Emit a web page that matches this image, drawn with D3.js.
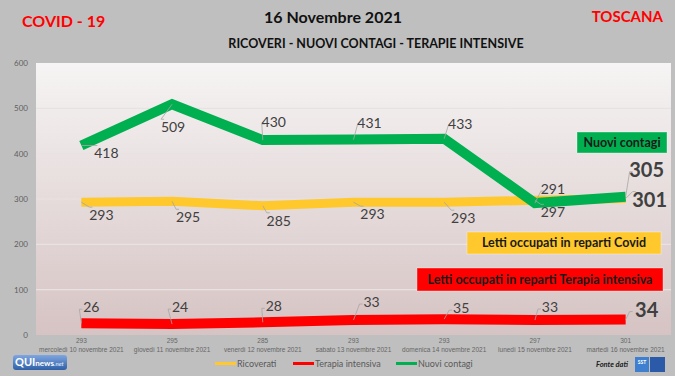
<!DOCTYPE html>
<html>
<head>
<meta charset="utf-8">
<script src="https://cdn.jsdelivr.net/npm/d3@7"></script>
<style>
  body { margin: 0; background: #bfbfbf; }
  svg { display: block; font-family: Lato, "Open Sans", sans-serif; }
</style>
</head>
<body>
<script>
// categories and series
const days = ["mercoledì 10 novembre 2021", "giovedì 11 novembre 2021", "venerdì 12 novembre 2021",
  "sabato 13 novembre 2021", "domenica 14 novembre 2021", "lunedì 15 novembre 2021", "martedì 16 novembre 2021"]
const ricoverati = [293, 295, 285, 293, 293, 297, 301]
const terapia = [26, 24, 28, 33, 35, 33, 34]
const contagi = [418, 509, 430, 431, 433, 291, 305]
const yTicks = [0, 100, 200, 300, 400, 500, 600]

// label offsets (dx, dy) from each point
const offContagi = [[25, 8], [1, 23], [11, -18], [16, -17], [16, -15], [18, -14], [21, -27]]
const offRicov = [[20, 13], [16, 16], [16, 15], [19, 12], [19, 16], [18, 12], [24, 1]]
const offTerapia = [[10, -16], [8, -17], [11, -16], [18, -18], [17, -11], [15, -13], [21, -10]]

const W = 675, H = 376
const plot = { left: 36, right: 671, top: 63, bottom: 335 }

let svg = d3.select("body")
  .append("svg")
  .attr("width", W)
  .attr("height", H)

let defs = svg.append("defs")
let grad = defs.append("linearGradient")
  .attr("id", "bg")
  .attr("x1", 0).attr("y1", 0).attr("x2", 0).attr("y2", 1)
grad.append("stop").attr("offset", "0%").attr("stop-color", "#f6f4f4")
grad.append("stop").attr("offset", "100%").attr("stop-color", "#d6c3c3")

let logoGrad = defs.append("linearGradient")
  .attr("id", "logo")
  .attr("x1", 0).attr("y1", 0).attr("x2", 0).attr("y2", 1)
logoGrad.append("stop").attr("offset", "0%").attr("stop-color", "#7fa6e0")
logoGrad.append("stop").attr("offset", "100%").attr("stop-color", "#2f5fa6")

svg.append("rect")
  .attr("width", W).attr("height", H)
  .attr("fill", "#bfbfbf")

svg.append("rect")
  .attr("x", plot.left).attr("y", plot.top)
  .attr("width", plot.right - plot.left)
  .attr("height", plot.bottom - plot.top)
  .attr("fill", "url(#bg)")

// scales
var x = d3.scaleBand()
  .domain(days)
  .range([plot.left, plot.right])

var y = d3.scaleLinear()
  .domain([0, 600])
  .range([plot.bottom, plot.top])

const cx = i => x(days[i]) + x.bandwidth() / 2

// grid
svg.append("g")
  .selectAll("line")
  .data(yTicks.slice(1, -1))
  .join("line")
  .attr("x1", plot.left).attr("x2", plot.right)
  .attr("y1", d => y(d)).attr("y2", d => y(d))
  .attr("stroke", "#e9e2e2")
  .attr("stroke-width", 1.2)

// y axis
var yAxis = d3.axisLeft(y)
  .tickValues(yTicks)
  .tickSize(0)
  .tickPadding(8)

svg.append("g")
  .attr("transform", `translate(${plot.left}, 0)`)
  .call(yAxis)
  .call(g => g.select(".domain").remove())
  .call(g => g.selectAll("text")
    .attr("font-size", 8)
    .attr("font-family", "Lato, sans-serif")
    .attr("fill", "#606060"))

// x axis: ricoverati value + day
var xAxis = d3.axisBottom(x)
  .tickSize(0)
  .tickFormat("")

let xg = svg.append("g")
  .attr("transform", `translate(0, ${plot.bottom})`)
  .call(xAxis)
xg.select(".domain").remove()
xg.selectAll(".tick").each(function (d, i) {
  let t = d3.select(this)
  t.append("text")
    .attr("y", 8)
    .attr("text-anchor", "middle")
    .attr("font-size", 6.5)
    .attr("fill", "#666")
    .text(ricoverati[i])
  t.append("text")
    .attr("y", 17)
    .attr("text-anchor", "middle")
    .attr("font-size", 6.5)
    .attr("fill", "#666")
    .text(d)
})

// lines
const line = d3.line()
  .x((d, i) => cx(i))
  .y(d => y(d))

const series = [
  { vals: ricoverati, color: "#ffc82c", w: 9, off: offRicov },
  { vals: terapia, color: "#ff0000", w: 10, off: offTerapia },
  { vals: contagi, color: "#00b050", w: 10, off: offContagi }
]

series.forEach(s => {
  svg.append("path")
    .datum(s.vals)
    .attr("d", line)
    .attr("fill", "none")
    .attr("stroke", s.color)
    .attr("stroke-width", s.w)
    .attr("stroke-linejoin", "miter")
})

// data labels with leader lines
series.forEach(s => {
  let g = svg.append("g")
  s.vals.forEach((v, i) => {
    let px = cx(i), py = y(v)
    let [dx, dy] = s.off[i]
    let last = i == s.vals.length - 1
    let fs = last ? 20 : 14
    // leader
    if (Math.abs(dx) > 6 || Math.abs(dy) > 16) {
      let ex = px + dx - (last ? 17 : 12)
      let ey = py + dy + (dy > 0 ? -8 : 2)
      g.append("polyline")
        .attr("points", `${px},${py} ${ex},${ey} ${ex + 3},${ey}`)
        .attr("fill", "none")
        .attr("stroke", "#a6a6a6")
        .attr("stroke-width", 0.8)
    }
    g.append("text")
      .attr("x", px + dx)
      .attr("y", py + dy)
      .attr("dy", "0.35em")
      .attr("text-anchor", "middle")
      .attr("font-size", fs)
      .attr("font-weight", last ? "bold" : "normal")
      .attr("fill", "#404040")
      .text(v)
  })
})

// annotation boxes
const boxes = [
  { x: 577, y: 132, w: 90, h: 21, fill: "#00b050", text: "Nuovi contagi" },
  { x: 467, y: 232, w: 194, h: 22, fill: "#ffc82c", text: "Letti occupati in reparti Covid" },
  { x: 417, y: 268, w: 246, h: 23, fill: "#ff0000", text: "Letti occupati in reparti Terapia intensiva" }
]
boxes.forEach(b => {
  svg.append("rect")
    .attr("x", b.x).attr("y", b.y)
    .attr("width", b.w).attr("height", b.h)
    .attr("fill", b.fill)
    .attr("stroke", "#ffffff").attr("stroke-opacity", 0.35)
  svg.append("text")
    .attr("x", b.x + b.w / 2).attr("y", b.y + b.h / 2)
    .attr("dy", "0.35em")
    .attr("text-anchor", "middle")
    .attr("font-size", 12.5)
    .attr("font-weight", "bold")
    .attr("fill", "#1a1a1a")
    .text(b.text)
})

// titles
svg.append("text")
  .attr("x", 333).attr("y", 23)
  .attr("text-anchor", "middle")
  .attr("font-size", 16).attr("font-weight", "bold")
  .attr("fill", "#111")
  .text("16 Novembre 2021")
svg.append("text")
  .attr("x", 376).attr("y", 48)
  .attr("text-anchor", "middle")
  .attr("font-size", 12.5).attr("font-weight", "bold")
  .attr("fill", "#111")
  .text("RICOVERI - NUOVI CONTAGI - TERAPIE INTENSIVE")
svg.append("text")
  .attr("x", 22).attr("y", 27)
  .attr("font-size", 16).attr("font-weight", "bold")
  .attr("fill", "#ff0000")
  .text("COVID - 19")
svg.append("text")
  .attr("x", 663).attr("y", 22)
  .attr("text-anchor", "end")
  .attr("font-size", 15).attr("font-weight", "bold")
  .attr("fill", "#ff0000")
  .text("TOSCANA")

// legend
const legend = [["Ricoverati", "#ffc82c", 215], ["Terapia intensiva", "#ff0000", 293], ["Nuovi contagi", "#00b050", 396]]
legend.forEach(([name, col, lx]) => {
  svg.append("rect")
    .attr("x", lx).attr("y", 362)
    .attr("width", 21).attr("height", 3)
    .attr("fill", col)
  svg.append("text")
    .attr("x", lx + 22).attr("y", 367)
    .attr("font-size", 9)
    .attr("fill", "#595959")
    .text(name)
})

svg.append("text")
  .attr("x", 628).attr("y", 367)
  .attr("text-anchor", "end")
  .attr("font-size", 7.5).attr("font-weight", "bold").attr("font-style", "italic")
  .attr("fill", "#222")
  .text("Fonte dati")

// SST logo
svg.append("rect")
  .attr("x", 635).attr("y", 357).attr("width", 14).attr("height", 15)
  .attr("fill", "#3f7fd0")
svg.append("rect")
  .attr("x", 650).attr("y", 357).attr("width", 15).attr("height", 15)
  .attr("fill", "#2a5aa8")
svg.append("text")
  .attr("x", 642).attr("y", 364)
  .attr("text-anchor", "middle")
  .attr("font-size", 5).attr("font-weight", "bold")
  .attr("fill", "#fff")
  .text("SST")

// QUInews logo
svg.append("rect")
  .attr("x", 13).attr("y", 355).attr("width", 54).attr("height", 15)
  .attr("rx", 3)
  .attr("fill", "url(#logo)")
let qt = svg.append("text")
  .attr("x", 15).attr("y", 366)
  .attr("font-weight", "bold")
  .attr("fill", "#fff")
qt.append("tspan").attr("font-size", 11).text("QUI")
qt.append("tspan").attr("font-size", 8).text("news")
qt.append("tspan").attr("font-size", 6).attr("fill", "#cfe0f5").attr("font-style", "italic").text(".net")
</script>
</body>
</html>
